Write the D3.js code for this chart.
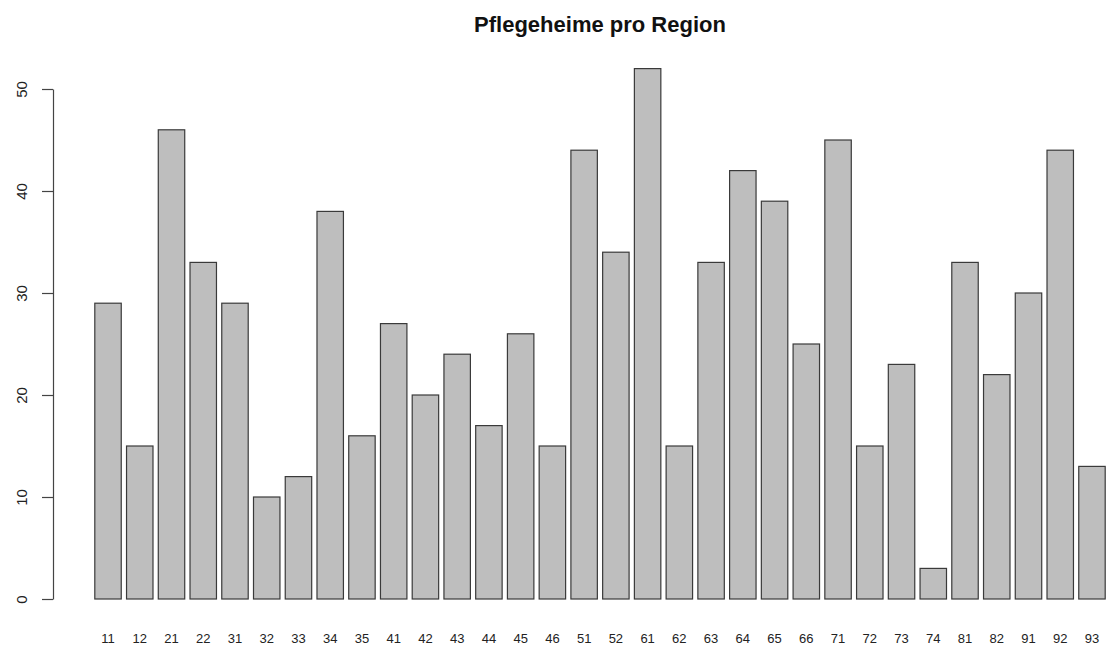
<!DOCTYPE html>
<html>
<head>
<meta charset="utf-8">
<script src="https://cdn.jsdelivr.net/npm/d3@7"></script>
<style>
  body { margin: 0; background: #fff; }
  svg { font-family: "Liberation Sans", Arial, Helvetica, sans-serif; }
</style>
</head>
<body>
<div id="chart"></div>
<script>
// Pflegeheime pro Region
var regions = ["11","12","21","22","31","32","33","34","35","41","42","43","44","45","46",
  "51","52","61","62","63","64","65","66","71","72","73","74","81","82","91","92","93"];
var counts = [29,15,46,33,29,10,12,38,16,27,20,24,17,26,15,
  44,34,52,15,33,42,39,25,45,15,23,3,33,22,30,44,13];
var yTicks = [0,10,20,30,40,50];

var width = 1106;
var height = 646;

var svg = d3.select("#chart")
  .append("svg")
  .attr("width", width)
  .attr("height", height);

var data = regions.map(function(r, i) {
  return { region: r, count: counts[i] };
});

// R barplot: width 1, space 0.2
var xScale = d3.scaleBand()
  .domain(regions)
  .range([94.8, 1105.2])
  .paddingInner(0.2 / 1.2)
  .paddingOuter(0);

var yScale = d3.scaleLinear()
  .domain([0, 50])
  .range([599, 89]);

svg.selectAll("rect.bar")
  .data(data)
  .enter()
  .append("rect")
  .attr("class", "bar")
  .attr("x", function(d) { return xScale(d.region); })
  .attr("y", function(d) { return yScale(d.count); })
  .attr("width", xScale.bandwidth())
  .attr("height", function(d) { return yScale(0) - yScale(d.count); })
  .attr("fill", "#bebebe")
  .attr("stroke", "#3a3a3a")
  .attr("stroke-width", 1.2);

// y axis
var yAxis = d3.axisLeft(yScale)
  .tickValues(yTicks)
  .tickSize(11)
  .tickSizeOuter(0);

var yG = svg.append("g")
  .attr("transform", "translate(53,0)")
  .call(yAxis);

yG.select(".domain").attr("stroke", "#444").attr("stroke-width", 1.2);
yG.selectAll(".tick line").attr("stroke", "#444").attr("stroke-width", 1.2);
yG.selectAll(".tick text")
  .attr("x", 0)
  .attr("dy", 0)
  .attr("transform", "translate(-26,0) rotate(-90)")
  .attr("text-anchor", "middle")
  .attr("fill", "#222")
  .style("font-size", "15px")
  .style("font-family", "Liberation Sans, Arial, sans-serif");

// x labels (no axis line in R barplot)
var xAxis = d3.axisBottom(xScale)
  .tickSize(0)
  .tickSizeOuter(0);

var xG = svg.append("g")
  .attr("transform", "translate(0,638)")
  .call(xAxis);

xG.select(".domain").remove();
xG.selectAll(".tick text")
  .attr("y", 0)
  .attr("dy", "0.35em")
  .attr("fill", "#222")
  .style("font-size", "13px")
  .style("font-family", "Liberation Sans, Arial, sans-serif");

// title
svg.append("text")
  .attr("x", 600)
  .attr("y", 32)
  .attr("text-anchor", "middle")
  .attr("font-weight", "bold")
  .attr("font-size", "22px")
  .attr("fill", "#111")
  .text("Pflegeheime pro Region");
</script>
</body>
</html>
